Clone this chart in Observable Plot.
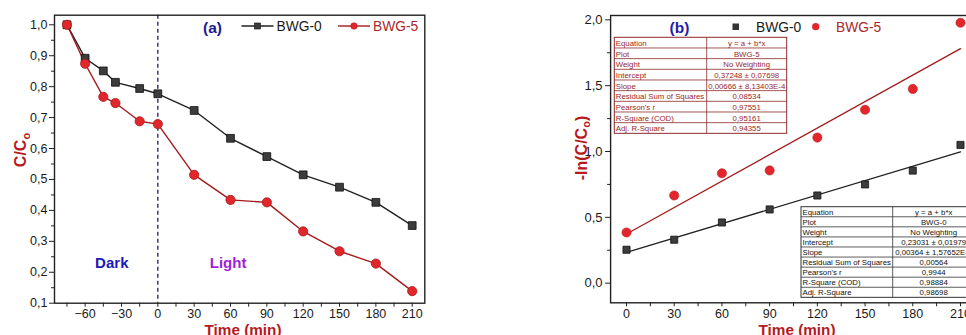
<!DOCTYPE html>
<html><head><meta charset="utf-8">
<script src="https://cdn.jsdelivr.net/npm/d3@7"></script>
<script src="https://cdn.jsdelivr.net/npm/@observablehq/plot@0.6"></script>
<style>
html,body{margin:0;padding:0;background:#fff;overflow:hidden;}
#wrap{position:relative;width:966px;height:335px;overflow:hidden;font-family:"Liberation Sans",Arial,sans-serif;}
.panel{position:absolute;top:0;}
#overlay{position:absolute;left:0;top:0;}
</style>
</head><body>
<div id="wrap"></div>
<script>
// ---- data: panel (a) ----
const timeA = [-75, -60, -45, -35, -15, 0, 30, 60, 90, 120, 150, 180, 210];
const bwg0A = [1.0, 0.892, 0.851, 0.814, 0.794, 0.777, 0.723, 0.633, 0.574, 0.515, 0.475, 0.426, 0.351];
const bwg5A = [1.0, 0.874, 0.767, 0.747, 0.688, 0.679, 0.515, 0.434, 0.426, 0.332, 0.268, 0.228, 0.139];
// ---- data: panel (b) ----
const timeB = [0, 30, 60, 90, 120, 150, 180, 210];
const bwg0B = [0.254, 0.330, 0.461, 0.560, 0.666, 0.750, 0.855, 1.050];
const bwg5B = [0.385, 0.666, 0.835, 0.856, 1.106, 1.317, 1.475, 1.978];
// ---- ticks ----
const xTicksA = [-60, -30, 0, 30, 60, 90, 120, 150, 180, 210];
const xMinorA = [-75, -45, -15, 15, 45, 75, 105, 135, 165, 195];
const yTicksA = [0.1, 0.2, 0.3, 0.4, 0.5, 0.6, 0.7, 0.8, 0.9, 1.0];
const yMinorA = [0.15, 0.25, 0.35, 0.45, 0.55, 0.65, 0.75, 0.85, 0.95];
const xTicksB = [0, 30, 60, 90, 120, 150, 180, 210];
const xMinorB = [15, 45, 75, 105, 135, 165, 195];
const yTicksB = [0.0, 0.5, 1.0, 1.5, 2.0];
const yMinorB = [0.25, 0.75, 1.25, 1.75];
// ---- annotations ----
const phaseLabels = ["Dark", "Light"];
const phaseX = [-38, 58];
const phaseY = [0.230, 0.230];
const phaseColors = ["#1a1ab4", "#a21ed6"];
const seriesNames = ["BWG-0", "BWG-5"];
const tableRowLabels = ["Equation", "Plot", "Weight", "Intercept", "Slope", "Residual Sum of Squares", "Pearson's r", "R-Square (COD)", "Adj. R-Square"];
const tableBWG5 = ["y = a + b*x", "BWG-5", "No Weighting", "0,37248 ± 0,07698", "0,00666 ± 8,13403E-4", "0,08534", "0,97551", "0,95161", "0,94355"];
const tableBWG0 = ["y = a + b*x", "BWG-0", "No Weighting", "0,23031 ± 0,01979", "0,00364 ± 1,57652E-4", "0,00564", "0,9944", "0,98884", "0,98698"];

const BLK_LINE = "#222", BLK_FILL = "#3c3c3c", RED_LINE = "#a51a1a", RED_FILL = "#e2262b", LABEL_RED = "#b51a20", NAVY = "#1c1c8e";
const dataA = timeA.map((t, i) => ({t, c0: bwg0A[i], c5: bwg5A[i]}));
const dataB = timeB.map((t, i) => ({t, c0: bwg0B[i], c5: bwg5B[i]}));
const fmt1 = d => d.toFixed(1).replace(".", ",");
const fmtX = d => d < 0 ? "\u2212" + (-d) : String(d);
const axisFont = {fontSize: 12.5, fill: "#1a1a1a"};

const wrap = document.getElementById("wrap");

const plotA = Plot.plot({
  width: 450, height: 335,
  marginLeft: 54, marginRight: 25.7, marginTop: 14.7, marginBottom: 32.3,
  x: {domain: [-85.3, 220.4], label: null},
  y: {domain: [0.1, 1.031], label: null},
  style: {fontFamily: "Liberation Sans, Arial, sans-serif", overflow: "visible", background: "transparent"},
  marks: [
    Plot.axisY(yTicksA, {tickSize: 5, tickPadding: 2, tickFormat: fmt1, label: null, ...axisFont, stroke: "#222"}),
    Plot.axisY(yMinorA, {tickSize: 3, text: null, label: null, stroke: "#222"}),
    Plot.axisX(xTicksA, {tickSize: 4, tickPadding: 2, tickFormat: fmtX, label: null, ...axisFont, stroke: "#222"}),
    Plot.axisX(xMinorA, {tickSize: 4, text: null, label: null, stroke: "#222"}),
    Plot.ruleX([0], {stroke: "#1e1e5a", strokeWidth: 1.3, strokeDasharray: "4,3"}),
    Plot.line(dataA, {x: "t", y: "c0", stroke: BLK_LINE, strokeWidth: 1.4}),
    Plot.line(dataA, {x: "t", y: "c5", stroke: RED_LINE, strokeWidth: 1.4}),
    Plot.dot(dataA, {x: "t", y: "c0", symbol: "square", r: 4.4, fill: BLK_FILL, stroke: "#111", strokeWidth: 0.8}),
    Plot.dot(dataA, {x: "t", y: "c5", r: 4.6, fill: RED_FILL, stroke: RED_LINE, strokeWidth: 0.8}),
    Plot.text(phaseLabels, {x: (d, i) => phaseX[i], y: (d, i) => phaseY[i], text: d => d, fill: (d, i) => phaseColors[i], fontSize: 15, fontWeight: "bold"}),
    Plot.frame({stroke: "#222", strokeWidth: 1.4})
  ]
});
plotA.classList.add("panel");
plotA.style.left = "0px";
wrap.appendChild(plotA);

const plotB = Plot.plot({
  width: 450, height: 335,
  marginLeft: 70.1, marginRight: 14.1, marginTop: 15, marginBottom: 32.7,
  x: {domain: [-10, 220], label: null},
  y: {domain: [-0.149, 2.033], label: null},
  style: {fontFamily: "Liberation Sans, Arial, sans-serif", overflow: "visible", background: "transparent"},
  marks: [
    Plot.axisY(yTicksB, {tickSize: 5, tickPadding: 3, tickFormat: fmt1, label: null, ...axisFont, fontSize: 13, stroke: "#222"}),
    Plot.axisY(yMinorB, {tickSize: 3, text: null, label: null, stroke: "#222"}),
    Plot.axisX(xTicksB, {tickSize: 4, tickPadding: 2, tickFormat: fmtX, label: null, ...axisFont, stroke: "#222"}),
    Plot.axisX(xMinorB, {tickSize: 4, text: null, label: null, stroke: "#222"}),
    Plot.linearRegressionY(dataB, {x: "t", y: "c5", stroke: RED_LINE, strokeWidth: 1.3, ci: 0}),
    Plot.linearRegressionY(dataB, {x: "t", y: "c0", stroke: BLK_LINE, strokeWidth: 1.3, ci: 0}),
    Plot.dot(dataB, {x: "t", y: "c0", symbol: "square", r: 4.0, fill: BLK_FILL, stroke: "#111", strokeWidth: 0.8}),
    Plot.dot(dataB, {x: "t", y: "c5", r: 4.6, fill: RED_FILL, stroke: "#c01c1c", strokeWidth: 0.6}),
    Plot.frame({stroke: "#222", strokeWidth: 1.4})
  ]
});
plotB.classList.add("panel");
plotB.style.left = "540px";
wrap.appendChild(plotB);

// ---- overlay: titles, legends, axis labels, fit tables ----
const ov = d3.select(wrap).append("svg").attr("id", "overlay")
  .attr("width", 966).attr("height", 335)
  .style("font-family", "Liberation Sans, Arial, sans-serif");

// panel tags
ov.append("text").attr("x", 212.5).attr("y", 32.5).attr("text-anchor", "middle")
  .attr("font-size", 15.5).attr("font-weight", "bold").attr("fill", NAVY).text("(a)");
ov.append("text").attr("x", 679.5).attr("y", 32.5).attr("text-anchor", "middle")
  .attr("font-size", 15.5).attr("font-weight", "bold").attr("fill", "#1f1fa8").text("(b)");

// legend (a)
const legA = ov.append("g");
legA.append("line").attr("x1", 241.5).attr("x2", 273.5).attr("y1", 26).attr("y2", 26).attr("stroke", BLK_LINE).attr("stroke-width", 1.4);
legA.append("rect").attr("x", 254.5).attr("y", 23).attr("width", 6).attr("height", 6).attr("fill", BLK_FILL).attr("stroke", "#111").attr("stroke-width", 0.6);
legA.append("text").attr("x", 276.5).attr("y", 31).attr("font-size", 13.8).attr("fill", "#1a1a1a").text(seriesNames[0]);
legA.append("line").attr("x1", 338).attr("x2", 370).attr("y1", 26).attr("y2", 26).attr("stroke", RED_LINE).attr("stroke-width", 1.4);
legA.append("circle").attr("cx", 354).attr("cy", 26).attr("r", 3.3).attr("fill", RED_FILL).attr("stroke", RED_LINE).attr("stroke-width", 0.5);
legA.append("text").attr("x", 373).attr("y", 31).attr("font-size", 13.8).attr("fill", "#a8282c").text(seriesNames[1]);

// legend (b)
const legB = ov.append("g");
legB.append("rect").attr("x", 732.5).attr("y", 23.5).attr("width", 6.5).attr("height", 6.5).attr("fill", "#333");
legB.append("text").attr("x", 756).attr("y", 31.5).attr("font-size", 13.8).attr("fill", "#1a1a1a").text(seriesNames[0]);
legB.append("circle").attr("cx", 815.7).attr("cy", 26.7).attr("r", 3.6).attr("fill", RED_FILL);
legB.append("text").attr("x", 836).attr("y", 31.5).attr("font-size", 13.8).attr("fill", "#a8282c").text(seriesNames[1]);

// axis labels
function xLabel(cx) {
  ov.append("text").attr("x", cx).attr("y", 334.5).attr("text-anchor", "middle")
    .attr("font-size", 15.3).attr("font-weight", "bold").attr("fill", LABEL_RED).text("Time (min)");
}
xLabel(243); xLabel(797);
function yLabel(x, y, pre, post) {
  const t = ov.append("text").attr("transform", `translate(${x},${y}) rotate(-90)`)
    .attr("text-anchor", "middle").attr("font-size", 16).attr("font-weight", "bold").attr("fill", LABEL_RED);
  t.append("tspan").text(pre);
  t.append("tspan").attr("dy", 3.5).attr("font-size", 11).text("o");
  if (post) t.append("tspan").attr("dy", -3.5).text(post);
}
yLabel(26, 150, "C/C", "");
yLabel(586.5, 148, "-ln(C/C", ")");

// fit tables
function fitTable(x0, y0, w1, w2, rowH, values, color, textColor) {
  const g = ov.append("g");
  const n = tableRowLabels.length;
  g.append("rect").attr("x", x0).attr("y", y0).attr("width", w1 + w2).attr("height", rowH * n)
    .attr("fill", "#fff").attr("stroke", color).attr("stroke-width", 1);
  for (let i = 1; i < n; i++) {
    g.append("line").attr("x1", x0).attr("x2", x0 + w1 + w2).attr("y1", y0 + i * rowH).attr("y2", y0 + i * rowH)
      .attr("stroke", color).attr("stroke-width", 0.8);
  }
  g.append("line").attr("x1", x0 + w1).attr("x2", x0 + w1).attr("y1", y0).attr("y2", y0 + rowH * n)
    .attr("stroke", color).attr("stroke-width", 0.8);
  tableRowLabels.forEach((lab, i) => {
    g.append("text").attr("x", x0 + 1.5).attr("y", y0 + i * rowH + rowH * 0.8)
      .attr("font-size", 7.8).attr("fill", textColor).text(lab);
    g.append("text").attr("x", x0 + w1 + w2 / 2).attr("y", y0 + i * rowH + rowH * 0.8)
      .attr("text-anchor", "middle").attr("font-size", 7.8).attr("fill", textColor).text(values[i]);
  });
}
fitTable(614.3, 37.3, 92.4, 80, 10.67, tableBWG5, "#8e2a2a", "#9a1f1f");
fitTable(801, 206.7, 91.7, 82, 10.07, tableBWG0, "#333", "#111");
</script>
</body></html>
